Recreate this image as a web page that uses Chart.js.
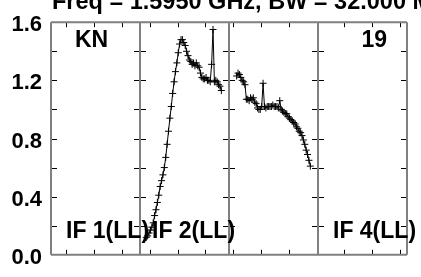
<!DOCTYPE html>
<html>
<head>
<meta charset="utf-8">
<script src="https://cdn.jsdelivr.net/npm/chart.js@4/dist/chart.umd.min.js"></script>
<style>
  html, body { margin: 0; padding: 0; background: #fff; }
  #wrap { width: 421px; height: 277px; position: relative; }
</style>
</head>
<body>
<div id="wrap"><canvas id="possm"></canvas></div>
<script>
// channel numbers inside each IF (64 channels, 0.5 MHz each)
const channels = [1,2,3,4,5,6,7,8,9,10,11,12,13,14,15,16,17,18,19,20,21,22,23,24,25,26,27,28,29,30,31,32,
  33,34,35,36,37,38,39,40,41,42,43,44,45,46,47,48,49,50,51,52,53,54,55,56,57,58,59,60,61,62,63,64];
const ifLabels = ['IF 1(LL)', 'IF 2(LL)', '', 'IF 4(LL)'];

// amplitudes, null = flagged channel; IF 1 and IF 4 fully flagged
const if1Amp = [];
const if2Amp = [null,null,null,null,
  0.12,0.13,0.15,0.17,0.19,0.22,0.27,0.31,0.36,0.41,
  0.47,0.51,0.55,0.60,0.67,0.76,0.85,0.94,1.02,1.11,
  1.19,1.26,1.32,1.39,1.45,1.48,1.48,1.46,1.44,1.40,
  1.37,1.34,1.33,1.31,1.32,1.30,1.32,1.30,1.29,1.25,
  1.22,1.21,1.21,1.22,1.20,1.20,1.19,1.31,1.55,1.19,
  1.20,1.19,1.17,1.16,1.13,
  null,null,null,null,null];
const if3Amp = [null,null,null,null,null,
  1.23,1.25,1.24,1.22,1.20,1.19,1.17,1.07,1.07,
  1.06,1.08,1.07,1.08,1.05,1.04,1.01,1.00,1.00,1.02,
  1.18,1.02,1.01,1.02,1.02,1.02,1.02,1.03,1.02,1.02,
  1.02,1.01,1.06,1.00,0.99,0.98,0.97,0.97,0.95,0.94,
  0.93,0.92,0.91,0.90,0.88,0.87,0.85,0.84,0.82,0.79,
  0.76,0.72,0.69,0.65,0.61,
  null,null,null,null,null];
const if4Amp = [];

const xTicks = [5.5,15.5,25.5,35.5,45.5,55.5,65.5,75.5,85.5,95.5,105.5,115.5,125.5];
const yTicks = [0.2,0.4,0.6,0.8,1.0,1.2,1.4];

const IF_WIDTH = 32;   // MHz per IF panel
const CHAN_WIDTH = 0.5;

function toPoints(amp, ifIndex) {
  const pts = [];
  amp.forEach((v, i) => {
    if (v === null) return;
    pts.push({ x: ifIndex * IF_WIDTH + (channels[i] - 0.5) * CHAN_WIDTH, y: v });
  });
  return pts;
}

const allAmp = [if1Amp, if2Amp, if3Amp, if4Amp];
const datasets = allAmp.map((amp, k) => ({
  data: toPoints(amp, k),
  borderColor: '#000',
  borderWidth: 1,
  pointStyle: 'cross',
  pointRadius: 3.5,
  pointBorderColor: '#000',
  pointBorderWidth: 1,
  tension: 0,
  fill: false
}));

const FAMILY = '"Liberation Sans", Arial, sans-serif';

const panels = {
  id: 'panels',
  beforeDatasetsDraw(chart) {
    const { ctx, chartArea: a, scales: { x, y } } = chart;
    ctx.save();
    // ticks
    ctx.strokeStyle = '#000';
    ctx.lineWidth = 1;
    ctx.beginPath();
    xTicks.forEach(t => {
      const px = Math.round(x.getPixelForValue(t)) + 0.5;
      ctx.moveTo(px, a.bottom); ctx.lineTo(px, a.bottom - 5);
      ctx.moveTo(px, a.top); ctx.lineTo(px, a.top + 5);
    });
    for (let k = 0; k <= 4; k++) {
      const bx = x.getPixelForValue(k * IF_WIDTH);
      yTicks.forEach(t => {
        const py = Math.round(y.getPixelForValue(t)) + 0.5;
        const l = k === 4 ? 0 : 6;
        const r = k === 0 ? 0 : 6;
        ctx.moveTo(bx - r, py); ctx.lineTo(bx + l, py);
      });
    }
    ctx.stroke();
    // panel frames
    ctx.strokeStyle = '#808080';
    ctx.lineWidth = 2;
    ctx.beginPath();
    ctx.moveTo(a.left, a.top); ctx.lineTo(a.right, a.top);
    ctx.moveTo(a.left, a.bottom); ctx.lineTo(a.right, a.bottom);
    for (let k = 0; k <= 4; k++) {
      const bx = x.getPixelForValue(k * IF_WIDTH);
      ctx.moveTo(bx, a.top); ctx.lineTo(bx, a.bottom);
    }
    ctx.stroke();
    ctx.restore();
  },
  afterDatasetsDraw(chart) {
    const { ctx, chartArea: a, scales: { x } } = chart;
    ctx.save();
    ctx.fillStyle = '#000';
    ctx.font = 'bold 23px ' + FAMILY;
    ctx.textBaseline = 'alphabetic';
    ctx.textAlign = 'left';
    ifLabels.forEach((lab, k) => {
      if (!lab) return;
      ctx.fillText(lab, x.getPixelForValue(k * IF_WIDTH) + (k === 1 ? 12 : 15), 238);
    });
    ctx.fillText('KN', a.left + 24, 47);
    ctx.textAlign = 'right';
    ctx.fillText('19', a.right - 20, 47);
    ctx.textAlign = 'left';
    ctx.font = 'bold 23.5px ' + FAMILY;
    ctx.fillText('Freq = 1.5950 GHz, BW = 32.000 MHz', 52, 9);
    ctx.restore();
  }
};

new Chart(document.getElementById('possm'), {
  type: 'line',
  data: { datasets: datasets },
  options: {
    responsive: true,
    maintainAspectRatio: false,
    animation: false,
    layout: { padding: { left: 0, right: 14, top: 15, bottom: 15 } },
    plugins: { legend: { display: false }, tooltip: { enabled: false } },
    scales: {
      x: { type: 'linear', min: 0, max: 4 * IF_WIDTH, display: false },
      y: {
        min: 0, max: 1.6,
        grid: { display: false, drawTicks: false },
        border: { display: false },
        afterFit: s => { s.width = 51; },
        ticks: {
          stepSize: 0.4,
          padding: 9,
          labelOffset: 3,
          color: '#000',
          font: { family: FAMILY, size: 22, weight: 'bold' },
          callback: v => v.toFixed(1)
        }
      }
    }
  },
  plugins: [panels]
});
</script>
</body>
</html>
